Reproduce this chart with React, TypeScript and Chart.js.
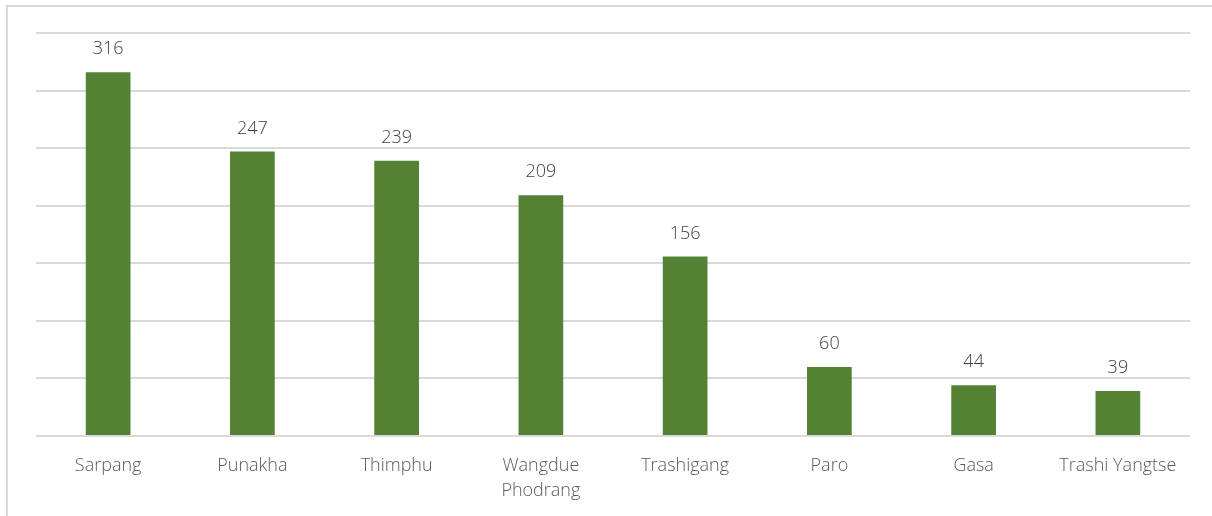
import React, { useEffect, useRef } from "react";
import { Chart, registerables } from "chart.js";

Chart.register(...registerables);

const categories: (string | string[])[] = [
  "Sarpang",
  "Punakha",
  "Thimphu",
  ["Wangdue", "Phodrang"],
  "Trashigang",
  "Paro",
  "Gasa",
  "Trashi Yangtse",
];
const values = [316, 247, 239, 209, 156, 60, 44, 39];
const yMax = 350;
const yStep = 50;

const FONT = "'Open Sans', 'Noto Sans', sans-serif";

const frame = {
  id: "frame",
  beforeDraw(chart: any) {
    const ctx = chart.ctx;
    ctx.save();
    ctx.fillStyle = "#ffffff";
    ctx.fillRect(0, 0, chart.width, chart.height);
    ctx.strokeStyle = "#d9d9d9";
    ctx.lineWidth = 2;
    ctx.beginPath();
    ctx.moveTo(7, chart.height);
    ctx.lineTo(7, 6);
    ctx.lineTo(chart.width, 6);
    ctx.stroke();
    ctx.restore();
  },
};

const dataLabels = {
  id: "dataLabels",
  afterDatasetsDraw(chart: any) {
    const ctx = chart.ctx;
    const meta = chart.getDatasetMeta(0);
    ctx.save();
    ctx.font = `300 18px ${FONT}`;
    ctx.fillStyle = "#404040";
    ctx.textAlign = "center";
    ctx.textBaseline = "middle";
    meta.data.forEach((bar: any, i: number) => {
      ctx.fillText(String(values[i]), bar.x, bar.y - 23);
    });
    ctx.restore();
  },
};

export default function App() {
  const ref = useRef<HTMLCanvasElement>(null);
  useEffect(() => {
    if (!ref.current) return;
    const chart = new Chart(ref.current, {
      type: "bar",
      data: {
        labels: categories,
        datasets: [
          {
            data: values,
            backgroundColor: "#548235",
            borderWidth: 0,
            categoryPercentage: 1,
            barPercentage: 0.31,
          },
        ],
      },
      options: {
        animation: false,
        responsive: false,
        maintainAspectRatio: false,
        layout: { padding: { left: 36, right: 22, top: 33, bottom: 0 } },
        plugins: {
          legend: { display: false },
          tooltip: { enabled: false },
        },
        scales: {
          x: {
            grid: { display: false },
            border: { display: false },
            ticks: {
              color: "#595959",
              font: { family: FONT, size: 18, weight: "300", lineHeight: 1.4 },
              padding: 9,
              maxRotation: 0,
              autoSkip: false,
            },
            afterFit: (axis: any) => {
              axis.height = 80;
            },
          },
          y: {
            min: 0,
            max: yMax,
            ticks: { display: false, stepSize: yStep },
            grid: { color: "#d9d9d9", lineWidth: 2, drawTicks: false },
            border: { display: false },
            afterFit: (axis: any) => {
              axis.width = 0;
            },
          },
        },
      },
      plugins: [frame, dataLabels],
    });
    return () => chart.destroy();
  }, []);
  return (
    <div style={{ position: "absolute", left: 0, top: 0, width: 1212, height: 516 }}>
      <canvas ref={ref} width={1212} height={516} style={{ width: 1212, height: 516 }} />
    </div>
  );
}
